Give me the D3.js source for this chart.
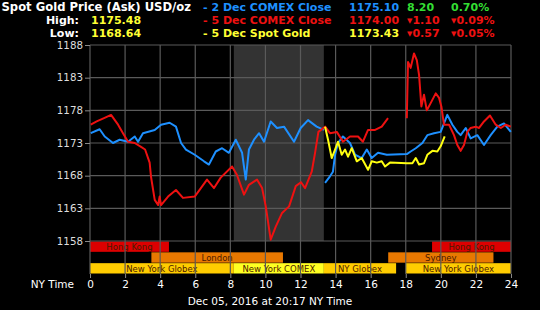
<!DOCTYPE html>
<html>
<head>
<meta charset="utf-8">
<script src="https://cdn.jsdelivr.net/npm/d3@7"></script>
<style>
  body { margin: 0; background: #000; }
  svg { display: block; }
</style>
</head>
<body>
<script>
const w = 540;
const h = 310;

// y ticks and x ticks
const yTicks = [1158, 1163, 1168, 1173, 1178, 1183, 1188];
const xTicks = [0, 2, 4, 6, 8, 10, 12, 14, 16, 18, 20, 22, 24];

// 2 Dec COMEX (blue) - hour / price, null = gap
const blueHours = [0.04, 0.55, 0.84, 1.31, 1.69, 2.17, 2.55, 2.74, 3.02, 3.69, 4.05, 4.54, 4.9, 5.19, 5.47, 5.97, 6.5, 6.78, 7.17, 7.53, 7.92, 8.31, 8.67, 8.88, 9.06, 9.35, 9.64, 9.92, 10.3, 10.66, 11.06, 11.63, 12.01, 12.43, 12.92, 13.34, 13.37,
  13.4, 13.68, 13.85, 13.97, 14.14, 14.42, 14.82, 15.11, 15.49, 15.78, 16.06, 16.42, 16.92, 18.06, 18.28, 18.57, 18.95, 19.23, 19.61, 19.99, 20.18, 20.37, 20.66, 20.94, 21.13, 21.42, 21.7, 22.08, 22.46, 22.84, 23.22, 23.6, 23.99];
const blueValues = [1174.5, 1175.1, 1174, 1173, 1173.5, 1173.2, 1174, 1173.2, 1174.5, 1175, 1175.8, 1176.1, 1175.5, 1173, 1172, 1171.2, 1170.2, 1169.7, 1171.7, 1172.2, 1171.5, 1173.5, 1171.5, 1167.4, 1172, 1173.5, 1174.5, 1173.2, 1176.3, 1175.3, 1175.5, 1173.2, 1175.3, 1176.5, 1175.5, 1175, null,
  1166.9, 1167.9, 1168.6, 1171.2, 1173, 1174, 1173, 1171.2, 1170.7, 1172, 1170.7, 1171.5, 1171.2, 1171.3, 1171.7, 1172.2, 1173, 1174.2, 1174.5, 1174.7, 1176, 1177.3, 1175.8, 1174.7, 1174.2, 1175.3, 1173.7, 1174.2, 1172.7, 1174.2, 1175.5, 1176, 1174.7];

// 5 Dec COMEX (red)
const redHours = [0.04, 0.38, 0.8, 1.2, 1.6, 1.88, 2.17, 2.55, 2.91, 3.14, 3.4, 3.48, 3.69, 3.88, 3.97, 4.05, 4.45, 4.9, 5.3, 5.97, 6.67, 7.07, 7.45, 8.1, 8.38, 8.78, 9.06, 9.52, 9.81, 10.02, 10.3, 10.59, 10.95, 11.35, 11.73, 12.03, 12.26, 12.64, 12.83, 13.02, 13.4, 13.68, 14.07, 14.42, 14.82, 15.28, 15.56, 15.85, 16.25, 16.63, 16.99, 17.5,
  18.06, 18.13, 18.28, 18.47, 18.63, 18.76, 18.89, 19.04, 19.2, 19.42, 19.71, 19.9, 20.03, 20.18, 20.47, 20.75, 20.94, 21.13, 21.32, 21.51, 21.7, 21.99, 22.18, 22.46, 22.8, 23.13, 23.42, 23.7, 23.99];
const redValues = [1175.8, 1176.3, 1176.8, 1177.3, 1175.8, 1174.5, 1173.2, 1173, 1172.4, 1172, 1170, 1167.8, 1164.3, 1163.5, 1164.8, 1163.5, 1164.8, 1165.8, 1164.6, 1164.8, 1167.4, 1166.1, 1167.7, 1169.4, 1168.1, 1165.1, 1166.6, 1167.4, 1166.1, 1163.3, 1158.2, 1160.2, 1162.3, 1163.3, 1166.4, 1167, 1166.1, 1168.6, 1171.5, 1174.7, 1175.5, 1174.5, 1174.7, 1173.2, 1174, 1174, 1173.2, 1175, 1175, 1175.5, 1176.8, null,
  1176.8, 1185.4, 1184.5, 1186.7, 1185.7, 1183.4, 1178.6, 1180.4, 1178, 1179.1, 1180.6, 1179.9, 1178.6, 1175.8, 1175.8, 1174.2, 1172.7, 1171.8, 1172.7, 1174.7, 1175.3, 1175.5, 1175.3, 1176.3, 1177.2, 1175.8, 1175.3, 1175.8, 1175.5];

// 5 Dec Spot Gold (yellow)
const yellowHours = [13.4, 13.57, 13.78, 13.97, 14.14, 14.35, 14.54, 14.71, 14.92, 15.21, 15.49, 15.85, 16.06, 16.35, 16.63, 16.82, 17.1, 18.06, 18.38, 18.57, 18.76, 19.04, 19.23, 19.52, 19.8, 19.99, 20.22];
const yellowValues = [1175.5, 1173.5, 1170.7, 1172, 1173.2, 1171.2, 1172, 1170.9, 1172.2, 1170.2, 1170.7, 1168.9, 1170.2, 1170, 1170.2, 1169.4, 1170, 1169.9, 1169.9, 1170.7, 1169.7, 1169.9, 1171.2, 1171.8, 1171.7, 1172.5, 1174];

// trading sessions
const sessionNames = ["Hong Kong", "Hong Kong", "London", "Sydney", "New York Globex", "New York COMEX", "NY Globex", "New York Globex"];
const sessionStart = [0, 19.5, 3.5, 17, 0, 8.2, 13.33, 18];
const sessionEnd = [4.5, 24, 11, 23, 8.2, 13.33, 17.45, 24];
const sessionRow = [0, 0, 1, 1, 2, 2, 2, 2];
const sessionColor = ["#dd0000", "#dd0000", "#e87800", "#e87800", "#ffcc00", "#ffff22", "#ffcc00", "#ffcc00"];

// COMEX shading
const comexOpen = 8.2;
const comexClose = 13.33;

const svg = d3.select("body")
  .append("svg")
  .attr("width", w)
  .attr("height", h)
  .style("background", "#000")
  .style("font-family", "'DejaVu Sans', Verdana, sans-serif");

const x = d3.scaleLinear().domain([0, 24]).range([90, 511]);
const y = d3.scaleLinear().domain([1158, 1188]).range([241, 45]);
const rowY = d3.scaleBand().domain([0, 1, 2]).range([241.5, 274]);

// header
const head = svg.append("g").attr("font-weight", "bold").attr("font-size", 11);
head.append("text").attr("x", 191).attr("y", 11).attr("text-anchor", "end")
  .attr("font-size", 11.6).attr("fill", "#fff").text("Spot Gold Price (Ask) USD/oz");
head.append("text").attr("x", 79).attr("y", 24).attr("text-anchor", "end").attr("fill", "#fff").text("High:");
head.append("text").attr("x", 91).attr("y", 24).attr("fill", "#ffff33").text("1175.48");
head.append("text").attr("x", 79).attr("y", 37).attr("text-anchor", "end").attr("fill", "#fff").text("Low:");
head.append("text").attr("x", 91).attr("y", 37).attr("fill", "#ffff33").text("1168.64");

const legend = [
  {name: "- 2 Dec COMEX Close", col: "#1e90ff", val: "1175.10", chg: "8.20", pct: "0.70%", up: true},
  {name: "- 5 Dec COMEX Close", col: "#ee1111", val: "1174.00", chg: "1.10", pct: "0.09%", up: false},
  {name: "- 5 Dec Spot Gold", col: "#ffff33", val: "1173.43", chg: "0.57", pct: "0.05%", up: false}
];
legend.forEach(function(d, i) {
  let ly = 11 + i * 13;
  head.append("text").attr("x", 203).attr("y", ly).attr("fill", d.col).text(d.name);
  head.append("text").attr("x", 349).attr("y", ly).attr("fill", d.col).text(d.val);
  let cc = d.up ? "#33dd33" : "#ee1111";
  let c = head.append("text").attr("x", 407).attr("y", ly).attr("fill", cc);
  if (!d.up) c.append("tspan").attr("font-size", 7).attr("dy", -1).text("▼");
  c.append("tspan").attr("dy", d.up ? 0 : 1).text(d.chg);
  let p = head.append("text").attr("x", 451).attr("y", ly).attr("fill", cc);
  if (!d.up) p.append("tspan").attr("font-size", 7).attr("dy", -1).text("▼");
  p.append("tspan").attr("dy", d.up ? 0 : 1).text(d.pct);
});

// comex shade
svg.append("rect")
  .attr("x", x(comexOpen)).attr("y", y(1188))
  .attr("width", x(comexClose) - x(comexOpen))
  .attr("height", y(1158) - y(1188))
  .attr("fill", "#333333");

// session bars
const sess = svg.selectAll("g.sess")
  .data(sessionNames)
  .enter()
  .append("g")
  .attr("class", "sess");
sess.append("rect")
  .attr("x", function(d, i) { return x(sessionStart[i]); })
  .attr("y", function(d, i) { return rowY(sessionRow[i]); })
  .attr("width", function(d, i) { return x(sessionEnd[i]) - x(sessionStart[i]); })
  .attr("height", rowY.bandwidth() - 0.5)
  .attr("fill", function(d, i) { return sessionColor[i]; });
sess.append("text")
  .attr("x", function(d, i) { return (x(sessionStart[i]) + x(sessionEnd[i])) / 2; })
  .attr("y", function(d, i) { return rowY(sessionRow[i]) + 8.5; })
  .attr("text-anchor", "middle")
  .attr("font-size", 8.5)
  .attr("fill", "#4a1a00")
  .text(function(d) { return d; });

// grid
svg.append("g").selectAll("line")
  .data(yTicks).enter().append("line")
  .attr("x1", x(0)).attr("x2", x(24))
  .attr("y1", function(d) { return y(d); }).attr("y2", function(d) { return y(d); })
  .attr("stroke", "#5a5a5a").attr("stroke-width", 1.2);
svg.append("g").selectAll("line")
  .data(xTicks).enter().append("line")
  .attr("x1", function(d) { return x(d); }).attr("x2", function(d) { return x(d); })
  .attr("y1", y(1188)).attr("y2", 274)
  .attr("stroke", "#5a5a5a").attr("stroke-width", 1.2);

// y axis
const yAxis = svg.append("g")
  .attr("transform", "translate(" + x(0) + ",0)")
  .call(d3.axisLeft(y).tickValues(yTicks).tickSize(5).tickPadding(2).tickFormat(d3.format("d")));
yAxis.select(".domain").remove();
yAxis.selectAll("line").attr("stroke", "#888");
yAxis.selectAll("text").attr("fill", "#ddd").attr("font-size", 10.3).attr("font-family", "'DejaVu Sans', sans-serif");

// x axis
const xAxis = svg.append("g")
  .attr("transform", "translate(0,274)")
  .call(d3.axisBottom(x).tickValues(xTicks).tickSize(4).tickPadding(3));
xAxis.select(".domain").remove();
xAxis.selectAll("line").attr("stroke", "#888");
xAxis.selectAll("text").attr("fill", "#fff").attr("font-size", 10.5).attr("font-family", "'DejaVu Sans', sans-serif");

svg.append("text").attr("x", 74).attr("y", 288).attr("text-anchor", "end")
  .attr("fill", "#fff").attr("font-size", 10.5).text("NY Time");

// series
function drawSeries(hours, values, color) {
  let pts = hours.map(function(hh, i) { return [hh, values[i]]; });
  let line = d3.line()
    .defined(function(d) { return d[1] !== null; })
    .x(function(d) { return x(d[0]); })
    .y(function(d) { return y(d[1]); });
  svg.append("path")
    .datum(pts)
    .attr("d", line)
    .attr("fill", "none")
    .attr("stroke", color)
    .attr("stroke-width", 2)
    .attr("stroke-linejoin", "round");
}
drawSeries(blueHours, blueValues, "#1e90ff");
drawSeries(redHours, redValues, "#ee1111");
drawSeries(yellowHours, yellowValues, "#ffff11");

// footer
svg.append("text").attr("x", 270).attr("y", 305).attr("text-anchor", "middle")
  .attr("fill", "#fff").attr("font-size", 10.5).text("Dec 05, 2016 at 20:17 NY Time");
</script>
</body>
</html>
